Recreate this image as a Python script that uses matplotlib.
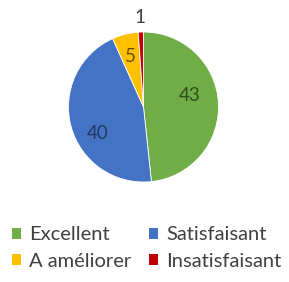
import numpy as np
import matplotlib
matplotlib.use("Agg")
import matplotlib.pyplot as plt
from matplotlib.patches import Patch

labels = ["Excellent", "Satisfaisant", "A améliorer", "Insatisfaisant"]
values = [43, 40, 5, 1]
colors = ["#70AD47", "#4472C4", "#FFC000", "#C00000"]
text_colors = ["#2F4F1A", "#1F3864", "#6B4F00", "#404040"]
label_dist = [0.64, 0.70, 0.70, 1.19]
label_rot = [11, 15, 0, 0]

plt.rcParams["font.family"] = ["Lato", "DejaVu Sans"]

W, H = 289, 282
fig = plt.figure(figsize=(W / 100, H / 100), dpi=100)
cx, cy, r = 143.5, 175, 75
ax = fig.add_axes([(cx - r) / W, (cy - r) / H, 2 * r / W, 2 * r / H])

wedges, _ = ax.pie(values, colors=colors, startangle=90, counterclock=False,
                   radius=1, wedgeprops=dict(edgecolor="white", linewidth=0.6))
ax.set_xlim(-1, 1)
ax.set_ylim(-1, 1)
ax.set_aspect("equal")
ax.axis("off")

for w, v, c, d, a in zip(wedges, values, text_colors, label_dist, label_rot):
    t = np.deg2rad((w.theta1 + w.theta2) / 2 + a)
    ax.text(d * np.cos(t), d * np.sin(t), str(v), ha="center", va="center",
            fontsize=13.5, color=c, clip_on=False)

# legend fills by column, so reorder to get rows like the original
order = [0, 2, 1, 3]
handles = [Patch(facecolor=colors[i], edgecolor="none") for i in order]
fig.legend(handles, [labels[i] for i in order], ncol=2, loc="center",
           bbox_to_anchor=(146.5 / W, 1 - 248 / H),
           frameon=False, fontsize=14.5, handlelength=0.45, handleheight=0.45,
           handletextpad=0.4, columnspacing=0.9, labelspacing=0.45,
           labelcolor="#404040", borderpad=0)

fig.savefig("out.png", dpi=100)
